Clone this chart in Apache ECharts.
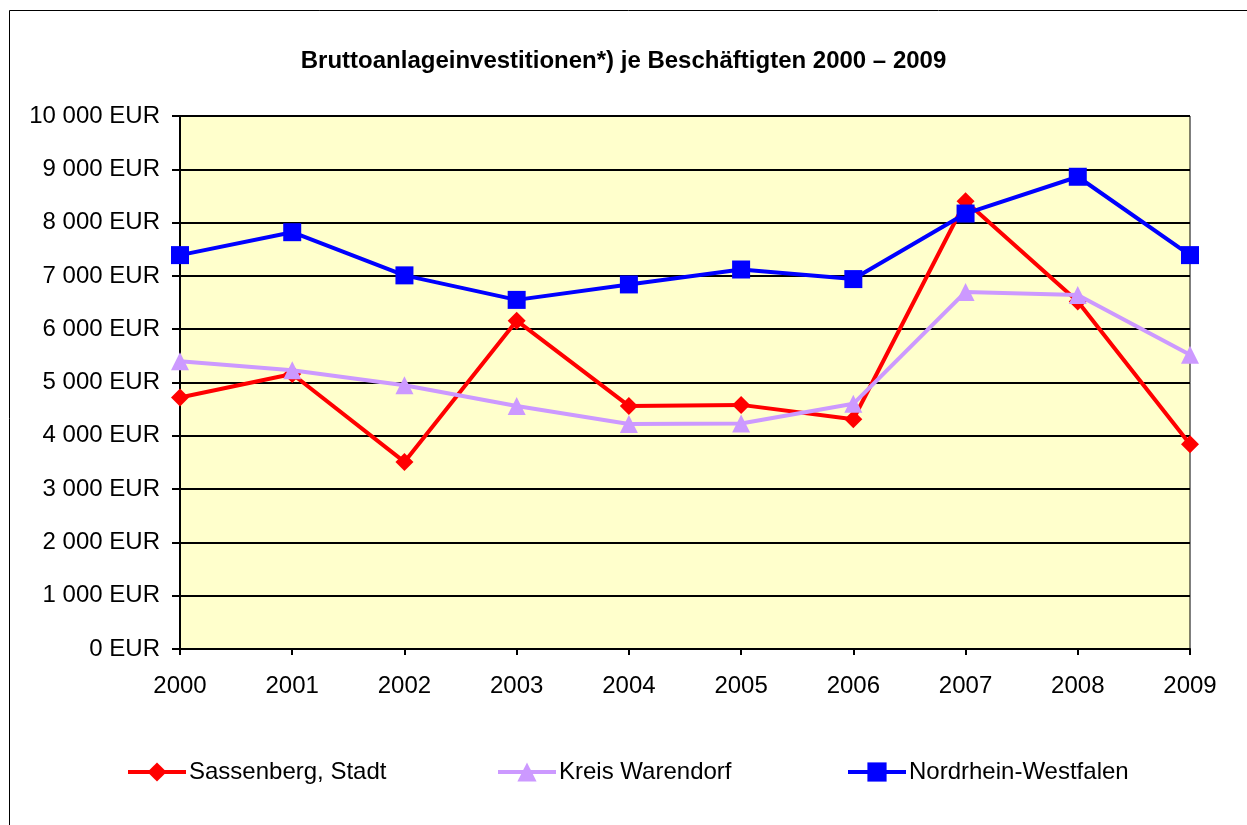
<!DOCTYPE html>
<html><head><meta charset="utf-8">
<script src="https://cdn.jsdelivr.net/npm/echarts@6/dist/echarts.min.js"></script>
<style>html,body{margin:0;padding:0;background:#fff}#c{width:1247px;height:825px}</style>
</head><body><div id="c"></div>
<script>
const years = ['2000','2001','2002','2003','2004','2005','2006','2007','2008','2009'];
const sassenberg = [4720, 5160, 3510, 6160, 4560, 4580, 4310, 8400, 6520, 3840];
const warendorf = [5400, 5230, 4950, 4560, 4220, 4230, 4600, 6700, 6640, 5520];
const nrw = [7390, 7820, 7010, 6550, 6840, 7120, 6940, 8170, 8860, 7390];
const seriesNames = ['Sassenberg, Stadt', 'Kreis Warendorf', 'Nordrhein-Westfalen'];
const titleText = 'Bruttoanlageinvestitionen*) je Beschäftigten 2000 – 2009';

const font = 'Arial';
const fs = 24;
const chart = echarts.init(document.getElementById('c'));
function fmt(v){ return String(v).replace(/\B(?=(\d{3})+(?!\d))/g, ' ') + ' EUR'; }
function legend(name, left){
  return {data:[name], left:left, top:755, itemWidth:58, itemHeight:24, itemGap:0,
    lineStyle:{width:4},
    textStyle:{fontFamily:font, fontSize:fs, color:'#000', padding:[0,0,0,-2]}, selectedMode:false};
}
chart.setOption({
  animation:false,
  backgroundColor:'#fff',
  graphic:[{type:'rect', shape:{x:9.5, y:10.5, width:1260, height:840}, style:{fill:null, stroke:'#000', lineWidth:1}, z:-1}],
  title:{text:titleText, left:'center', top:44, textStyle:{fontFamily:font, fontSize:24, fontWeight:'bold', color:'#000'}},
  legend:[legend(seriesNames[0],121), legend(seriesNames[1],491), legend(seriesNames[2],841)],
  grid:{left:180, right:57, top:116, bottom:176, show:true, backgroundColor:'#FFFFCC', borderColor:'#000', borderWidth:1},
  xAxis:{type:'category', data:years, boundaryGap:false,
    axisLine:{lineStyle:{color:'#000', width:2}},
    axisTick:{show:true, length:6, lineStyle:{color:'#000', width:2}},
    axisLabel:{fontFamily:font, fontSize:fs, color:'#000', margin:25}},
  yAxis:{type:'value', min:0, max:10000, interval:1000,
    axisLine:{show:true, lineStyle:{color:'#000', width:2}},
    axisTick:{show:true, length:8, lineStyle:{color:'#000', width:2}},
    splitLine:{lineStyle:{color:'#000', width:2}},
    axisLabel:{fontFamily:font, fontSize:fs, color:'#000', margin:20, formatter:fmt}},
  series:[
    {name:seriesNames[0], type:'line', data:sassenberg, symbol:'diamond', symbolSize:18,
     itemStyle:{color:'#FF0000'}, lineStyle:{color:'#FF0000', width:4}, z:3},
    {name:seriesNames[1], type:'line', data:warendorf, symbol:'triangle', symbolSize:18,
     itemStyle:{color:'#CC99FF'}, lineStyle:{color:'#CC99FF', width:4}, z:4},
    {name:seriesNames[2], type:'line', data:nrw, symbol:'rect', symbolSize:18,
     itemStyle:{color:'#0000FF'}, lineStyle:{color:'#0000FF', width:4}, z:5}
  ]
});
</script></body></html>
